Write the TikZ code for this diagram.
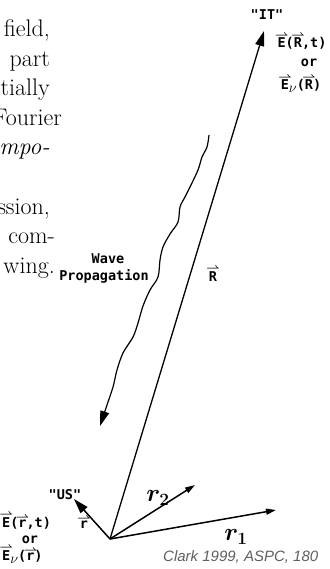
\documentclass[tikz,border=0pt]{standalone}
\usepackage{fontspec}
\usepackage{bm}
\usetikzlibrary{arrows.meta}
\newfontfamily\lblfont{DejaVu Sans Mono}
\newfontfamily\clkfont{Liberation Sans}
\definecolor{clarkgray}{RGB}{95,95,95}
\newcommand\hv[1]{\leavevmode\setbox0\hbox{#1}\rlap{\hbox to \wd0{\hss\raisebox{\dimexpr\ht0-0.6pt\relax}{\scalebox{0.8}{$\bm{\rightharpoonup}$}}\hss}}\box0}
\begin{document}
\begin{tikzpicture}[x=1pt,y=-1pt,
  ptext/.style={anchor=base east,inner sep=0pt,font=\fontsize{24}{29}\selectfont},
  lbltop/.style={inner sep=0pt,anchor=base,font=\lblfont\bfseries\fontsize{13.5}{15}\selectfont},
  lblbot/.style={inner sep=0pt,anchor=base,font=\lblfont\bfseries\fontsize{13.5}{15}\selectfont},
  mathlbl/.style={inner sep=0pt,font=\fontsize{24}{29}\selectfont},
  bigtip/.style={-{Triangle[length=15pt,width=9pt]},line width=1.3pt},
  smalltip/.style={-{Triangle[length=10pt,width=6pt]},line width=1.5pt},
  wavy/.style={-{Triangle[length=15pt,width=9pt]},line width=1.2pt}]
\useasboundingbox (0,0) rectangle (329,569);
\clip (0,0) rectangle (329,569);
% paragraph fragments
\node[ptext] (p1) at (50,37) {field,};
\node[ptext] (p2) at (50,66.5) {part};
\node[ptext] (p3) at (50,96) {tially};
\node[ptext] (p4) at (62,125.5) {Fourier};
\node[ptext] (p5) at (50,155) {\itshape mpo-};
\node[ptext] (p6) at (50,214) {ssion,};
\node[ptext] (p7) at (55,243.5) {com-};
\node[ptext] (p8) at (55,273) {wing.};
% points
\coordinate (O) at (110,539);
\coordinate (ITt) at (264,31);
\coordinate (USt) at (74,499);
\coordinate (r2t) at (195,485);
\coordinate (r1t) at (276,510);
\coordinate (w0) at (209,135);
\coordinate (w1) at (100,426);
% vectors
\draw[bigtip] (O) -- (ITt);
\draw[bigtip,line width=1.5pt] (O) -- (USt);
\draw[smalltip] (O) -- (r2t);
\draw[smalltip] (O) -- (r1t);
% wave
\draw[wavy] plot[smooth,tension=0.55] coordinates {(w0) (207,147) (202,157) (198,170) (190,187) (185,197) (180,207) (178,222) (170,234) (163,247) (160,260) (158,277) (150,290) (143,306) (138,323) (133,337) (123,353) (117,370) (113,387) (107,405) (w1)};
% labels top right
\node[lbltop] (it) at (267,20) {"IT"};
\node[lbltop] (itE) at (302,48) {\hv{E}(\hv{R},t)};
\node[lbltop] (itor) at (309,67) {or};
\node[lbltop] (itEn) at (301,90) {\hv{E}\raisebox{-3pt}{$\nu$}(\hv{R})};
% middle labels
\node[lbltop] (wave) at (108,263) {Wave};
\node[lbltop] (prop) at (104,280) {Propagation};
\node[lbltop] (Rhat) at (213,281) {\hv{R}};
% bottom labels
\node[lblbot] (us) at (65,499) {"US"};
\node[lblbot] (rvec) at (84,528) {\hv{r}};
\node[lblbot,anchor=base west] (usE) at (2,527) {\hv{E}(\hv{r},t)};
\node[lblbot] (usor) at (30,543) {or};
\node[lblbot,anchor=base west] (usEn) at (2,560) {\hv{E}\raisebox{-3pt}{$\nu$}(\hv{r})};
\node[mathlbl] (r2) at (158,498) {$\bm{r_2}$};
\node[mathlbl] (r1) at (236,537) {$\bm{r_1}$};
\node[anchor=base west,inner sep=0pt,text=clarkgray,font=\clkfont\itshape\fontsize{15}{18}\selectfont] (clark) at (163,561) {Clark 1999, ASPC, 180};
\end{tikzpicture}
\end{document}
